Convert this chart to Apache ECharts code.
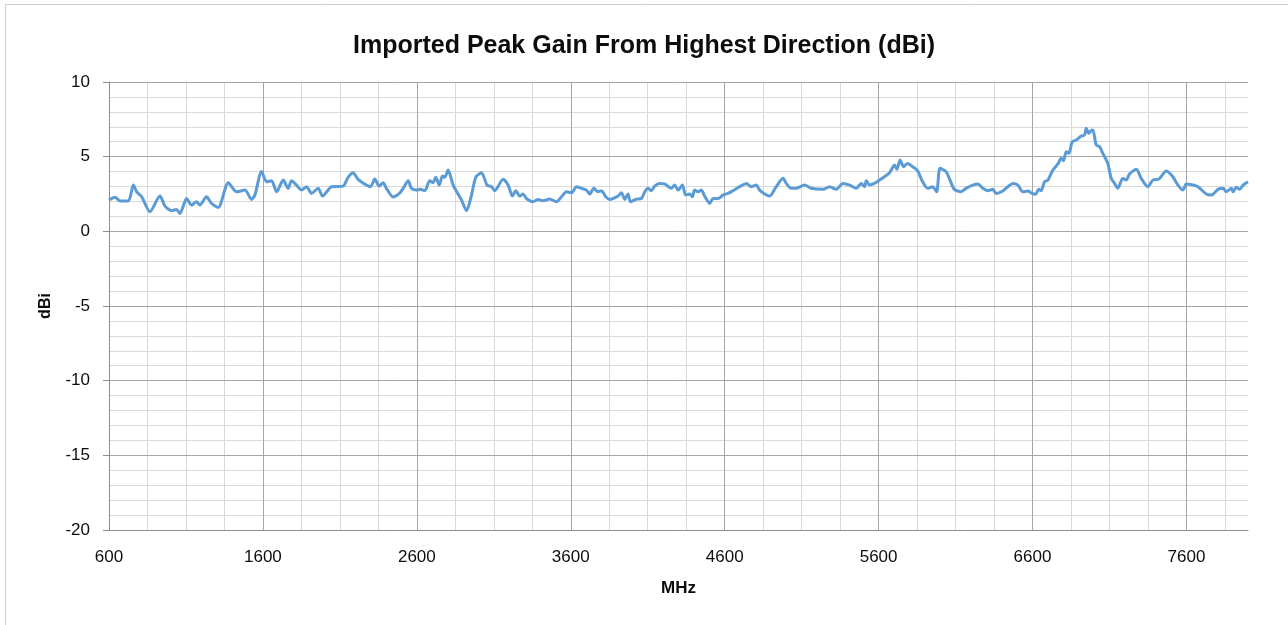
<!DOCTYPE html>
<html>
<head>
<meta charset="utf-8">
<script src="https://cdn.jsdelivr.net/npm/echarts@6/dist/echarts.min.js"></script>
<style>
  html, body { margin: 0; padding: 0; background: #fff; }
  #chart { width: 1288px; height: 625px; }
</style>
</head>
<body>
<div id="chart"></div>
<script>
const chartTitle = 'Imported Peak Gain From Highest Direction (dBi)';
const xName = 'MHz';
const yName = 'dBi';
const xMin = 600, xMax = 8000, xMajor = 1000, xMinor = 250;
const yMin = -20, yMax = 10, yMajor = 5, yMinor = 1;

const freqMHz = [600,640,671,726,758,780,812,866,931,964,1007,1038,1061,1104,1136,1169,1190,1234,1266,1310,1375,1429,1483,1526,1548,1591,1624,1656,1689,1732,1764,1786,1818,1851,1883,1916,1959,1987,2046,2121,2153,2186,2218,2272,2299,2327,2355,2381,2402,2446,2490,2511,2544,2565,2598,2624,2652,2684,2706,2723,2745,2767,2782,2803,2836,2890,2923,2955,2983,3020,3056,3085,3106,3160,3193,3221,3243,3269,3290,3312,3355,3388,3420,3464,3507,3540,3572,3605,3637,3670,3702,3724,3750,3777,3799,3827,3853,3907,3929,3951,3972,3988,4027,4059,4081,4102,4124,4145,4178,4210,4253,4275,4297,4325,4347,4373,4390,4405,4427,4448,4470,4503,4524,4557,4589,4622,4654,4697,4741,4773,4805,4827,4860,4892,4935,4979,5000,5032,5065,5119,5162,5238,5282,5325,5368,5412,5455,5487,5509,5520,5541,5573,5606,5638,5671,5704,5719,5740,5762,5788,5821,5853,5886,5918,5951,5977,5999,6038,6064,6092,6136,6168,6212,6245,6277,6309,6342,6364,6407,6440,6472,6505,6537,6570,6591,6619,6641,6656,6678,6700,6732,6765,6786,6801,6819,6836,6858,6884,6916,6938,6949,6966,6981,6992,7014,7035,7057,7089,7111,7133,7154,7187,7209,7230,7274,7306,7349,7382,7421,7469,7508,7545,7577,7599,7642,7675,7729,7762,7805,7838,7859,7892,7903,7924,7946,7968,8000];

const gainDbi = [2.1,2.28,2.03,2.03,3.1,2.65,2.32,1.31,2.36,1.69,1.38,1.47,1.2,2.2,1.76,1.98,1.76,2.32,1.87,1.6,3.26,2.65,2.76,2.14,2.43,4.0,3.32,3.39,2.65,3.43,2.88,3.39,3.1,2.76,2.99,2.54,2.88,2.36,2.99,3.03,3.62,3.93,3.48,3.1,2.99,3.5,3.03,3.26,2.88,2.3,2.58,2.88,3.39,2.88,2.76,2.81,2.72,3.39,3.26,3.62,3.1,3.7,3.62,4.1,3.1,2.1,1.38,2.43,3.62,3.93,3.1,2.99,2.72,3.48,3.1,2.36,2.72,2.36,2.5,2.2,1.98,2.14,2.05,2.16,1.98,2.32,2.65,2.58,2.99,2.88,2.76,2.5,2.88,2.65,2.72,2.32,2.14,2.36,2.58,2.14,2.5,1.98,2.16,2.2,2.65,2.88,2.72,3.03,3.21,3.17,2.88,3.1,2.76,3.1,2.43,2.5,2.32,2.76,2.65,2.76,2.36,1.87,2.2,2.2,2.43,2.54,2.72,2.99,3.21,2.99,3.1,2.76,2.5,2.36,2.99,3.55,3.21,2.88,2.88,3.1,2.88,2.81,2.99,2.81,3.21,3.1,2.88,3.21,2.99,3.39,3.1,3.21,3.43,3.66,3.93,4.44,4.15,4.78,4.33,4.55,4.33,4.06,3.32,2.88,2.99,2.65,4.22,4.0,3.43,2.81,2.65,2.88,3.1,3.17,2.88,2.72,2.81,2.54,2.7,2.99,3.21,3.1,2.65,2.7,2.58,2.48,2.81,2.72,3.32,3.43,4.1,4.51,4.89,4.73,5.33,5.22,6.0,6.11,6.38,6.45,6.9,6.56,6.74,6.78,5.78,5.67,5.22,4.55,3.55,3.21,2.88,3.55,3.43,3.84,4.15,3.55,2.99,3.43,3.5,4.04,3.7,3.1,2.76,3.17,3.1,2.99,2.5,2.43,2.81,2.88,2.65,2.88,2.65,2.95,2.81,3.1,3.32];

const seriesData = freqMHz.map((f, i) => [f, gainDbi[i]]);

const FONT = '"Liberation Sans", Arial, sans-serif';
const majorGrid = '#a6a6a6';
const minorGrid = '#d9d9d9';
const axisColor = '#8c8c8c';

const chart = echarts.init(document.getElementById('chart'), null, { renderer: 'canvas' });
chart.setOption({
  animation: false,
  backgroundColor: '#ffffff',
  graphic: [{
    type: 'rect',
    shape: { x: 5.5, y: 4.5, width: 1400, height: 800 },
    style: { fill: 'none', stroke: '#d0d0d0', lineWidth: 1 },
    silent: true, z: -10
  }],
  title: {
    text: chartTitle,
    left: 'center',
    top: 29,
    textStyle: { fontFamily: FONT, fontSize: 25, fontWeight: 'bold', color: '#0d0d0d' }
  },
  grid: { left: 109, right: 40, top: 82, bottom: 95, containLabel: false },
  xAxis: [{
    type: 'value', min: xMin, max: xMax, interval: xMajor,
    name: xName, nameLocation: 'middle', nameGap: 50,
    nameTextStyle: { fontFamily: FONT, fontSize: 17, fontWeight: 'bold', color: '#0d0d0d' },
    axisLine: { show: true, onZero: false, lineStyle: { color: axisColor, width: 1 } },
    axisTick: { show: false },
    axisLabel: { fontFamily: FONT, fontSize: 17, color: '#0d0d0d', margin: 19, showMaxLabel: false,
      formatter: function (v) { return String(v); } },
    splitLine: { show: true, showMinLine: false, showMaxLine: false, lineStyle: { color: majorGrid, width: 1 } },
    z: 3
  }, {
    type: 'value', min: xMin, max: xMax, interval: xMinor, position: 'bottom',
    axisLine: { show: false }, axisTick: { show: false }, axisLabel: { show: false },
    splitLine: { show: true, showMinLine: false, showMaxLine: false, lineStyle: { color: minorGrid, width: 1 } },
    z: 1
  }],
  yAxis: [{
    type: 'value', min: yMin, max: yMax, interval: yMajor,
    name: yName, nameLocation: 'middle', nameGap: 55, nameRotate: 90,
    nameTextStyle: { fontFamily: FONT, fontSize: 16, fontWeight: 'bold', color: '#0d0d0d' },
    axisLine: { show: true, onZero: false, lineStyle: { color: axisColor, width: 1 } },
    axisTick: { show: true, length: 6, lineStyle: { color: axisColor } },
    axisLabel: { fontFamily: FONT, fontSize: 17, color: '#0d0d0d', margin: 19,
      formatter: function (v) { return String(v); } },
    splitLine: { show: true, showMinLine: false, lineStyle: { color: majorGrid, width: 1 } },
    z: 3
  }, {
    type: 'value', min: yMin, max: yMax, interval: yMinor, position: 'left',
    axisLine: { show: false }, axisTick: { show: false }, axisLabel: { show: false },
    splitLine: { show: true, showMinLine: false, lineStyle: { color: minorGrid, width: 1 } },
    z: 1
  }],
  series: [{
    type: 'line',
    xAxisIndex: 0, yAxisIndex: 0,
    data: seriesData,
    showSymbol: false,
    smooth: 0.25,
    lineStyle: { color: '#5b9bd5', width: 3 },
    z: 5
  }]
});
</script>
</body>
</html>
